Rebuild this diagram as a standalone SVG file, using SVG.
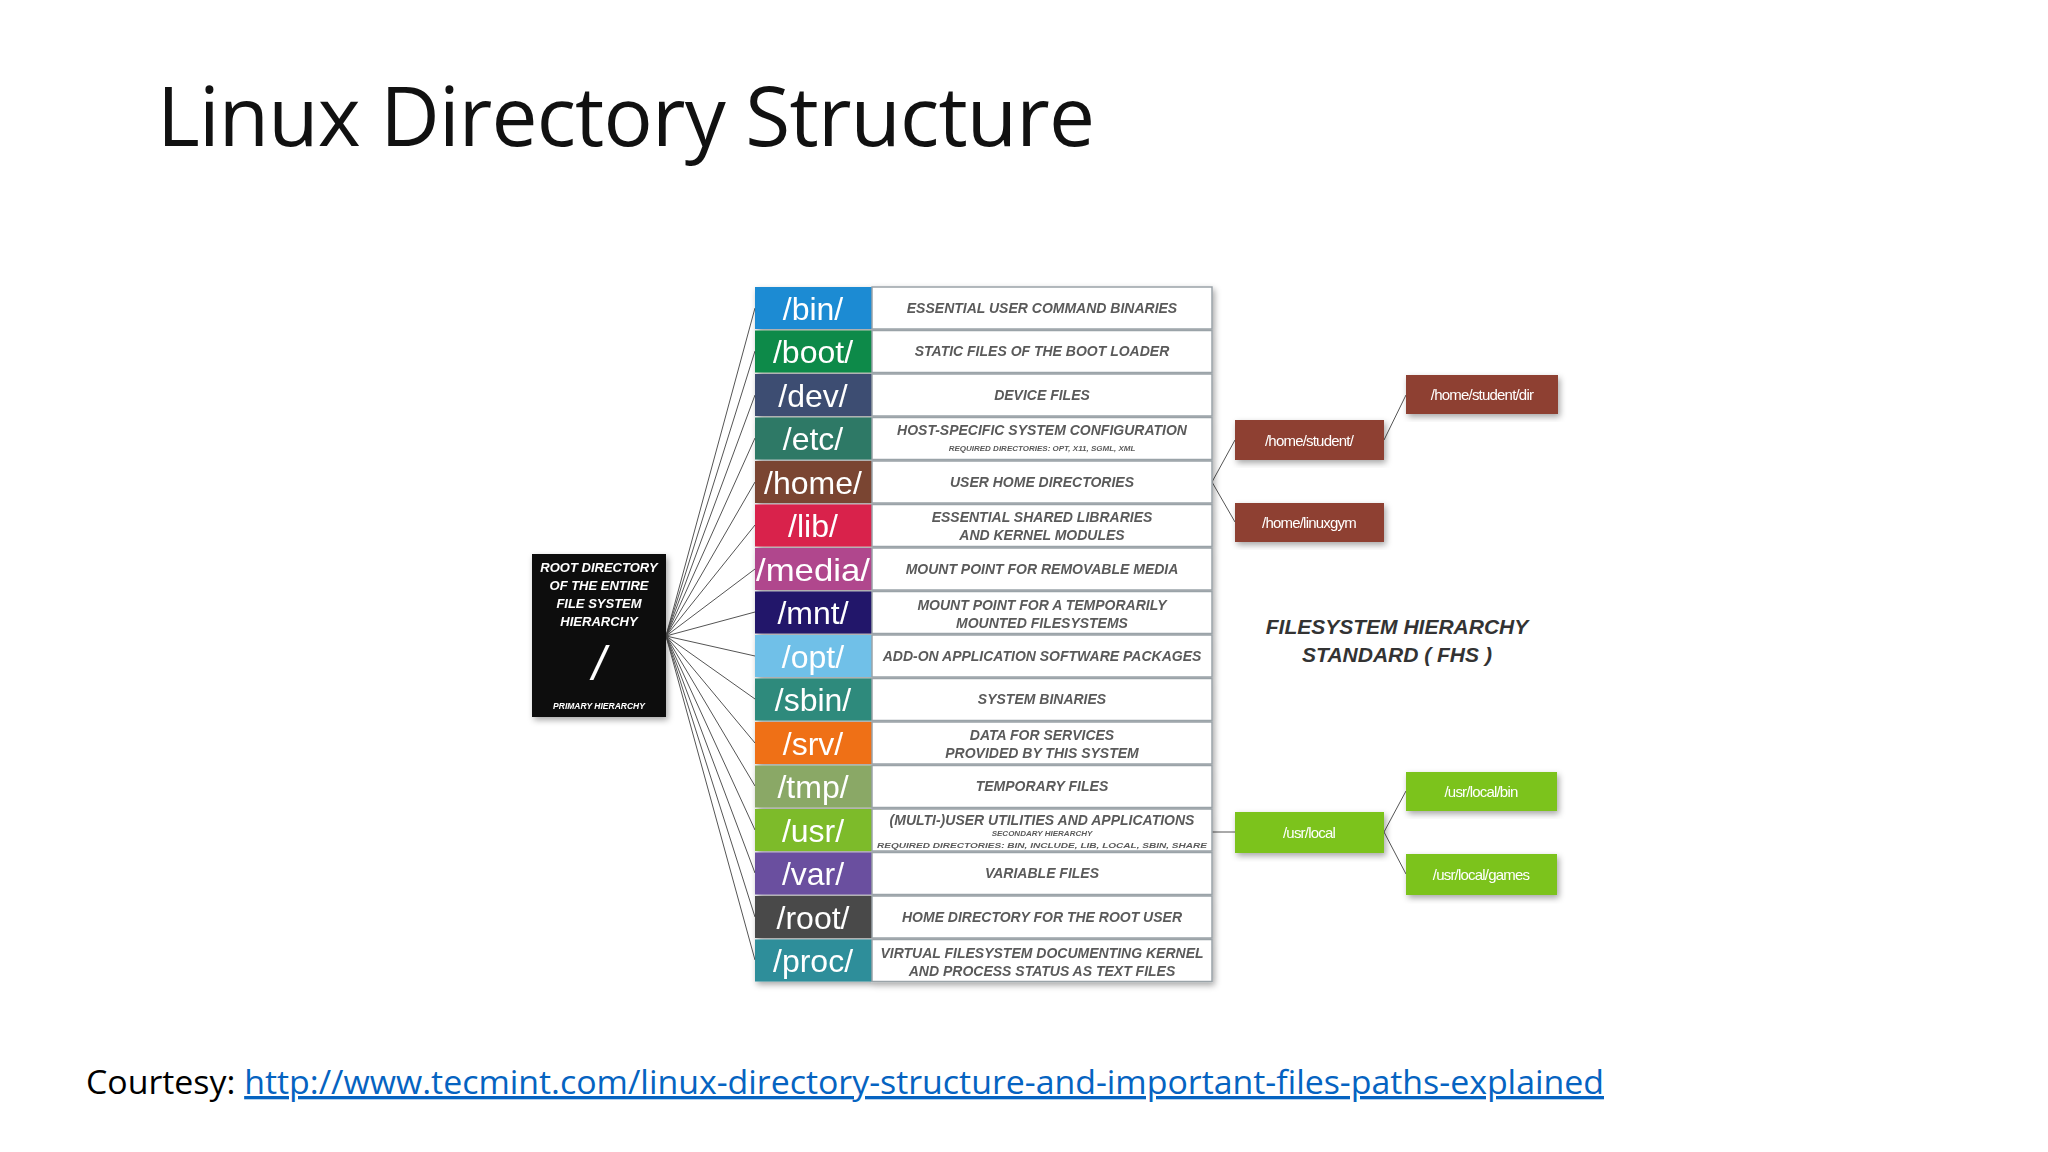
<svg xmlns="http://www.w3.org/2000/svg" width="2048" height="1152" viewBox="0 0 2048 1152">
<defs>
<style>
.lab{font-family:"Liberation Sans",Arial,sans-serif;font-size:32px;fill:#fff;text-anchor:middle}
.desc{font-family:"Liberation Sans",Arial,sans-serif;font-size:14px;font-weight:bold;font-style:italic;fill:#5a5a5a;text-anchor:middle}
.sm{font-size:8px}
.dbox{fill:#fff;stroke:#9aa3a8;stroke-width:1.5}
.con{stroke:#555;stroke-width:1;fill:none}
.sub{font-family:"Liberation Sans",Arial,sans-serif;font-size:15px;fill:#fff;text-anchor:middle;letter-spacing:-0.8px}
.br{fill:#8e3f30}
.gr{fill:#7cc31f}
</style>
<filter id="sh" x="-20%" y="-20%" width="140%" height="140%"><feDropShadow dx="2" dy="3" stdDeviation="3" flood-opacity="0.35"/></filter>
</defs>
<rect width="2048" height="1152" fill="#fff"/>
<text x="157" y="146" font-family="Open Sans, Liberation Sans, sans-serif" font-size="82" fill="#111" textLength="938" lengthAdjust="spacing">Linux Directory Structure</text>

<g id="connectors" class="con">
<line x1="666" y1="636" x2="755" y2="308"/><line x1="666" y1="636" x2="755" y2="351"/>
<line x1="666" y1="636" x2="755" y2="395"/><line x1="666" y1="636" x2="755" y2="438"/>
<line x1="666" y1="636" x2="755" y2="482"/><line x1="666" y1="636" x2="755" y2="525"/>
<line x1="666" y1="636" x2="755" y2="569"/><line x1="666" y1="636" x2="755" y2="612"/>
<line x1="666" y1="636" x2="755" y2="656"/><line x1="666" y1="636" x2="755" y2="699"/>
<line x1="666" y1="636" x2="755" y2="743"/><line x1="666" y1="636" x2="755" y2="786"/>
<line x1="666" y1="636" x2="755" y2="830"/><line x1="666" y1="636" x2="755" y2="873"/>
<line x1="666" y1="636" x2="755" y2="917"/><line x1="666" y1="636" x2="755" y2="960"/>
<polyline points="1235,440 1212,482 1235,522"/>
<line x1="1384" y1="440" x2="1406" y2="395"/>
<line x1="1212" y1="832" x2="1235" y2="832"/>
<polyline points="1406,791 1384,832 1406,874"/>
</g>

<g id="root" filter="url(#sh)">
<rect x="532" y="554" width="134" height="163" fill="#111"/>
<g font-family="Liberation Sans, Arial, sans-serif" font-weight="bold" font-style="italic" fill="#fff" text-anchor="middle">
<text x="599" y="572" font-size="13">ROOT DIRECTORY</text>
<text x="599" y="590" font-size="13">OF THE ENTIRE</text>
<text x="599" y="608" font-size="13">FILE SYSTEM</text>
<text x="599" y="626" font-size="13">HIERARCHY</text>
<text x="599" y="680" font-size="48" font-weight="normal">/</text>
<text x="599" y="709" font-size="8.5">PRIMARY HIERARCHY</text>
</g>
</g>

<g id="table" filter="url(#sh)">
<g id="bin"><rect x="755" y="287" width="117" height="42" fill="#1b8bd3"/><rect class="dbox" x="872" y="287" width="340" height="42"/><text class="lab" x="813" y="320">/bin/</text><text class="desc" x="1042" y="313">ESSENTIAL USER COMMAND BINARIES</text></g>
<g id="boot"><rect x="755" y="330.5" width="117" height="42" fill="#0f8a48"/><rect class="dbox" x="872" y="330.5" width="340" height="42"/><text class="lab" x="813" y="363">/boot/</text><text class="desc" x="1042" y="356">STATIC FILES OF THE BOOT LOADER</text></g>
<g id="dev"><rect x="755" y="374" width="117" height="42" fill="#3e4e72"/><rect class="dbox" x="872" y="374" width="340" height="42"/><text class="lab" x="813" y="407">/dev/</text><text class="desc" x="1042" y="400">DEVICE FILES</text></g>
<g id="etc"><rect x="755" y="417.5" width="117" height="42" fill="#2f7966"/><rect class="dbox" x="872" y="417.5" width="340" height="42"/><text class="lab" x="813" y="450">/etc/</text><text class="desc" x="1042" y="435">HOST-SPECIFIC SYSTEM CONFIGURATION</text><text class="desc sm" x="1042" y="451">REQUIRED DIRECTORIES: OPT, X11, SGML, XML</text></g>
<g id="home"><rect x="755" y="461" width="117" height="42" fill="#7a4532"/><rect class="dbox" x="872" y="461" width="340" height="42"/><text class="lab" x="813" y="494">/home/</text><text class="desc" x="1042" y="487">USER HOME DIRECTORIES</text></g>
<g id="lib"><rect x="755" y="504.5" width="117" height="42" fill="#d9214b"/><rect class="dbox" x="872" y="504.5" width="340" height="42"/><text class="lab" x="813" y="537">/lib/</text><text class="desc" x="1042" y="522">ESSENTIAL SHARED LIBRARIES</text><text class="desc" x="1042" y="540">AND KERNEL MODULES</text></g>
<g id="media"><rect x="755" y="548" width="117" height="42" fill="#b0478d"/><rect class="dbox" x="872" y="548" width="340" height="42"/><text class="lab" x="813" y="581" textLength="114" lengthAdjust="spacingAndGlyphs">/media/</text><text class="desc" x="1042" y="574">MOUNT POINT FOR REMOVABLE MEDIA</text></g>
<g id="mnt"><rect x="755" y="591.5" width="117" height="42" fill="#22146b"/><rect class="dbox" x="872" y="591.5" width="340" height="42"/><text class="lab" x="813" y="624">/mnt/</text><text class="desc" x="1042" y="610">MOUNT POINT FOR A TEMPORARILY</text><text class="desc" x="1042" y="628">MOUNTED FILESYSTEMS</text></g>
<g id="opt"><rect x="755" y="635" width="117" height="42" fill="#6fc0e8"/><rect class="dbox" x="872" y="635" width="340" height="42"/><text class="lab" x="813" y="668">/opt/</text><text class="desc" x="1042" y="661">ADD-ON APPLICATION SOFTWARE PACKAGES</text></g>
<g id="sbin"><rect x="755" y="678.5" width="117" height="42" fill="#2f8a7b"/><rect class="dbox" x="872" y="678.5" width="340" height="42"/><text class="lab" x="813" y="711">/sbin/</text><text class="desc" x="1042" y="704">SYSTEM BINARIES</text></g>
<g id="srv"><rect x="755" y="722" width="117" height="42" fill="#ef7018"/><rect class="dbox" x="872" y="722" width="340" height="42"/><text class="lab" x="813" y="755">/srv/</text><text class="desc" x="1042" y="740">DATA FOR SERVICES</text><text class="desc" x="1042" y="758">PROVIDED BY THIS SYSTEM</text></g>
<g id="tmp"><rect x="755" y="765.5" width="117" height="42" fill="#8aa866"/><rect class="dbox" x="872" y="765.5" width="340" height="42"/><text class="lab" x="813" y="798">/tmp/</text><text class="desc" x="1042" y="791">TEMPORARY FILES</text></g>
<g id="usr"><rect x="755" y="809" width="117" height="42" fill="#7dbb2a"/><rect class="dbox" x="872" y="809" width="340" height="42"/><text class="lab" x="813" y="842">/usr/</text><text class="desc" x="1042" y="825">(MULTI-)USER UTILITIES AND APPLICATIONS</text><text class="desc sm" x="1042" y="836">SECONDARY HIERARCHY</text><text class="desc sm" x="1042" y="848" textLength="330" lengthAdjust="spacingAndGlyphs">REQUIRED DIRECTORIES: BIN, INCLUDE, LIB, LOCAL, SBIN, SHARE</text></g>
<g id="var"><rect x="755" y="852.5" width="117" height="42" fill="#6a4f9f"/><rect class="dbox" x="872" y="852.5" width="340" height="42"/><text class="lab" x="813" y="885">/var/</text><text class="desc" x="1042" y="878">VARIABLE FILES</text></g>
<g id="root-dir"><rect x="755" y="896" width="117" height="42" fill="#4a4a4a"/><rect class="dbox" x="872" y="896" width="340" height="42"/><text class="lab" x="813" y="929">/root/</text><text class="desc" x="1042" y="922">HOME DIRECTORY FOR THE ROOT USER</text></g>
<g id="proc"><rect x="755" y="939.5" width="117" height="42" fill="#2e8e9a"/><rect class="dbox" x="872" y="939.5" width="340" height="42"/><text class="lab" x="813" y="972">/proc/</text><text class="desc" x="1042" y="958">VIRTUAL FILESYSTEM DOCUMENTING KERNEL</text><text class="desc" x="1042" y="976">AND PROCESS STATUS AS TEXT FILES</text></g>
</g>

<g id="home-student" filter="url(#sh)"><rect class="br" x="1235" y="420" width="149" height="40"/><text class="sub" x="1309" y="446">/home/student/</text></g>
<g id="home-linuxgym" filter="url(#sh)"><rect class="br" x="1235" y="503" width="149" height="39"/><text class="sub" x="1309" y="528">/home/linuxgym</text></g>
<g id="home-student-dir" filter="url(#sh)"><rect class="br" x="1406" y="375" width="152" height="39"/><text class="sub" x="1482" y="400">/home/student/dir</text></g>
<g id="usr-local" filter="url(#sh)"><rect class="gr" x="1235" y="812" width="149" height="41"/><text class="sub" x="1309" y="838">/usr/local</text></g>
<g id="usr-local-bin" filter="url(#sh)"><rect class="gr" x="1406" y="772" width="151" height="39"/><text class="sub" x="1481" y="797">/usr/local/bin</text></g>
<g id="usr-local-games" filter="url(#sh)"><rect class="gr" x="1406" y="854" width="151" height="41"/><text class="sub" x="1481" y="880">/usr/local/games</text></g>

<g font-family="Liberation Sans, Arial, sans-serif" font-weight="bold" font-style="italic" fill="#333" text-anchor="middle" font-size="21">
<text x="1397" y="634">FILESYSTEM HIERARCHY</text>
<text x="1397" y="662">STANDARD ( FHS )</text>
</g>

<text x="86" y="1094" font-family="Open Sans, Liberation Sans, sans-serif" font-size="33" fill="#000" textLength="1518" lengthAdjust="spacingAndGlyphs">Courtesy: <tspan fill="#0563c1" text-decoration="underline">http://www.tecmint.com/linux-directory-structure-and-important-files-paths-explained</tspan></text>
</svg>
